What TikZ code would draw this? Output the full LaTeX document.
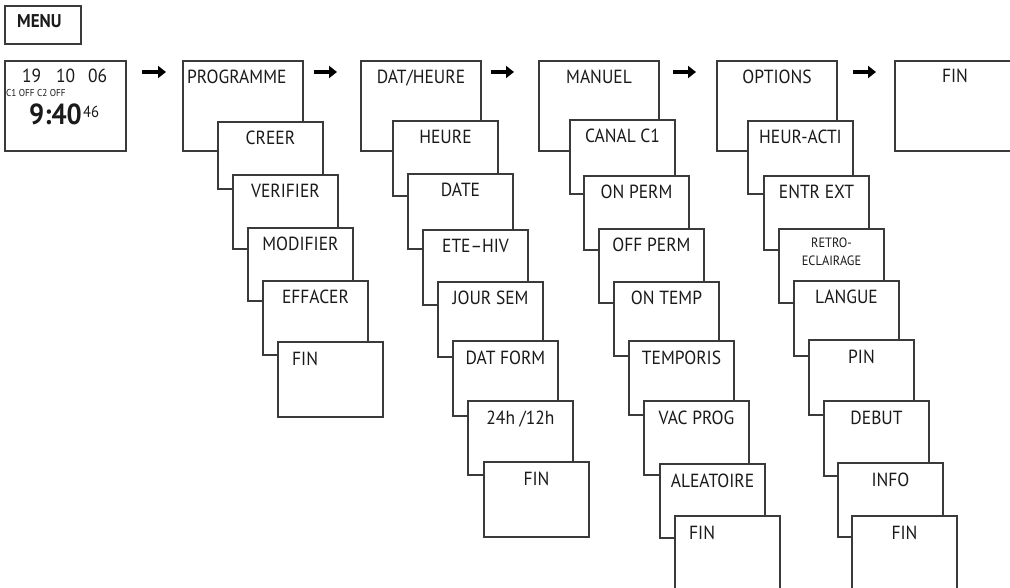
\documentclass[tikz,border=0pt]{standalone}
\usepackage{fontspec}
\setmainfont{PT Sans}[FakeStretch=0.92]
\usetikzlibrary{arrows.meta}
\definecolor{ln}{HTML}{3A3A3A}
\definecolor{tx}{HTML}{1A1A1A}
\tikzset{
  x=1pt,y=-1pt,
  frame/.style={draw=ln, line width=1.2pt, fill=white, anchor=north west, inner sep=0pt, outer sep=0pt},
  topbox/.style={frame, minimum width=120pt, minimum height=90pt},
  subbox/.style={frame, minimum width=105pt, minimum height=74pt},
  lab/.style={font=\fontsize{19}{21}\selectfont, text=tx, anchor=base, inner sep=0pt},
  smalllab/.style={font=\fontsize{13.5}{15}\selectfont, text=tx, anchor=base, inner sep=0pt},
  nextarrow/.style={line width=4.8pt, draw=black, -{Triangle[length=8pt,width=12pt]}},
}
\newcommand{\mkbox}[5]{%
  \node[subbox, minimum height=#4pt] (#1) at (#2,#3) {};
  \node[lab] (#1-t) at ([yshift=-23pt]#1.north) {#5};}
\newcommand{\mkboxl}[5]{%
  \node[subbox, minimum height=#4pt] (#1) at (#2,#3) {};
  \node[lab, anchor=base west] (#1-t) at ([xshift=14pt,yshift=-23pt]#1.north west) {#5};}
\begin{document}
\begin{tikzpicture}
\useasboundingbox (0,0) rectangle (1010,588);
\fill[white] (0,0) rectangle (1010,588);

% MENU
\node[frame, minimum width=76pt, minimum height=38pt] (menu) at (5,6) {};
\node[lab, anchor=base west, font=\bfseries\fontsize{18.5}{20}\selectfont] (menu-t) at ([xshift=12pt,yshift=-22pt]menu.north west) {MENU};

% display
\node[topbox, minimum width=121pt] (disp) at (5,61) {};
\node[lab, anchor=base west] (d19) at (22,83) {19};
\node[lab, anchor=base west] (d10) at (56,83) {10};
\node[lab, anchor=base west] (d06) at (88,83) {06};
\node[lab, anchor=base west, font=\fontsize{10}{11}\selectfont] (dc) at (6,96.5) {C1 OFF C2 OFF};
\node[lab, anchor=base west, font=\bfseries\fontsize{29}{30}\selectfont] (dtime) at (29,125) {9:40};
\node[lab, anchor=base west, font=\fontsize{16}{18}\selectfont] (dsec) at ([xshift=1pt]dtime.base east) {\raisebox{7pt}{46}};

% PROGRAMME column
\node[topbox] (p0) at (183,61) {};
\node[lab, anchor=base west] (p0-t) at ([xshift=4pt,yshift=-23pt]p0.north west) {PROGRAMME};
\mkbox{p1}{218}{122}{67}{CREER}
\mkbox{p2}{233}{175}{74}{VERIFIER}
\mkbox{p3}{248}{228}{73}{MODIFIER}
\mkbox{p4}{263}{281}{74}{EFFACER}
\mkboxl{p5}{278}{342}{75}{FIN}

% DAT/HEURE column
\node[topbox] (d0) at (361,61) {};
\node[lab] (d0-t) at ([yshift=-23pt]d0.north) {DAT/HEURE};
\mkbox{d1}{393}{121}{75}{HEURE}
\mkbox{d2}{408}{174}{75}{DATE}
\mkbox{d3}{423}{230}{75}{ETE–HIV}
\mkbox{d4}{438}{282}{75}{JOUR SEM}
\mkbox{d5}{453}{341}{75}{DAT FORM}
\mkbox{d6}{468}{401}{74}{24h /12h}
\mkbox{d7}{484}{462}{75}{FIN}

% MANUEL column
\node[topbox] (m0) at (539,61) {};
\node[lab] (m0-t) at ([yshift=-23pt]m0.north) {MANUEL};
\mkbox{m1}{570}{120}{74}{CANAL C1}
\mkbox{m2}{584}{176}{74}{ON PERM}
\mkbox{m3}{599}{229}{74}{OFF PERM}
\mkbox{m4}{614}{282}{74}{ON TEMP}
\mkbox{m5}{629}{341}{74}{TEMPORIS}
\mkbox{m6}{644}{401}{74}{VAC PROG}
\mkbox{m7}{660}{464}{74}{ALEATOIRE}
\mkboxl{m8}{675}{516}{74}{FIN}

% OPTIONS column
\node[topbox] (o0) at (717,61) {};
\node[lab] (o0-t) at ([yshift=-23pt]o0.north) {OPTIONS};
\mkbox{o1}{748}{121}{73}{HEUR-ACTI}
\mkbox{o2}{764}{176}{74}{ENTR EXT}
\node[subbox] (o3) at (779,229) {};
\node[smalllab] (o3-t1) at ([yshift=-19pt]o3.north) {RETRO-};
\node[smalllab] (o3-t2) at ([yshift=-37pt]o3.north) {ECLAIRAGE};
\mkbox{o4}{794}{281}{75}{LANGUE}
\mkbox{o5}{809}{340}{75}{PIN}
\mkbox{o6}{824}{401}{75}{DEBUT}
\mkbox{o7}{838}{463}{74}{INFO}
\mkbox{o8}{852}{516}{74}{FIN}

% final FIN
\node[topbox] (f0) at (895,61) {};
\node[lab] (f0-t) at ([yshift=-22pt]f0.north) {FIN};

% arrows
\draw[nextarrow, shorten <=16pt, shorten >=17pt] ([yshift=-11pt]disp.north east) -- ([yshift=-11pt]p0.north west);
\draw[nextarrow, shorten <=11pt, shorten >=24pt] ([yshift=-11pt]p0.north east) -- ([yshift=-11pt]d0.north west);
\draw[nextarrow, shorten <=10pt, shorten >=25pt] ([yshift=-11pt]d0.north east) -- ([yshift=-11pt]m0.north west);
\draw[nextarrow, shorten <=14pt, shorten >=21pt] ([yshift=-11pt]m0.north east) -- ([yshift=-11pt]o0.north west);
\draw[nextarrow, shorten <=16pt, shorten >=19pt] ([yshift=-11pt]o0.north east) -- ([yshift=-11pt]f0.north west);
\end{tikzpicture}
\end{document}
